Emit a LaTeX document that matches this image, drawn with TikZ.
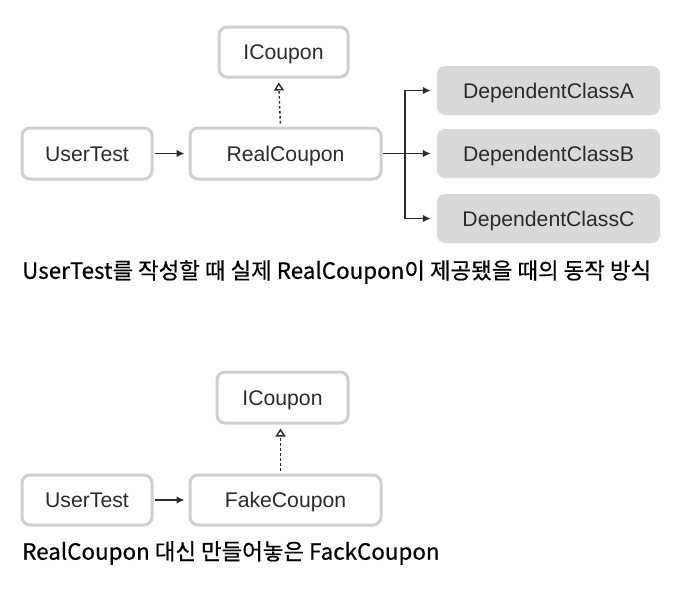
\documentclass[tikz,border=0pt]{standalone}
\usepackage{fontspec}
\setmainfont{Liberation Sans}
\newfontfamily\cjk[FakeBold=0.5]{Noto Sans CJK KR}
\usetikzlibrary{arrows.meta}
\definecolor{boxline}{HTML}{CFCFCF}
\definecolor{boxfill}{HTML}{D9D9D9}
\definecolor{ink}{HTML}{2B2B2B}
\begin{document}
\begin{tikzpicture}[x=1pt,y=-1pt,
  box/.style={draw=boxline, line width=3pt, rounded corners=8pt, fill=white,
    text=ink, font=\fontsize{21.2}{24}\selectfont, inner sep=0pt,
    text height=15.2pt, text depth=0pt},
  depbox/.style={fill=boxfill, rounded corners=8pt, text=ink,
    font=\fontsize{21.2}{24}\selectfont, inner sep=0pt,
    text height=15.2pt, text depth=0pt,
    minimum width=223pt, minimum height=49pt},
  arr/.style={draw=ink, line width=1.4pt, -{Latex[length=8pt,width=7.5pt]}},
  impl/.style={draw=ink, line width=1.4pt, dash pattern=on 2.5pt off 2.5pt,
    -{Triangle[open, length=8pt, width=10pt, line width=1.4pt]}},
  caption/.style={anchor=west, inner sep=0pt, text=black,
    font=\cjk\fontsize{22.4}{26}\selectfont}
]
\useasboundingbox (0,0) rectangle (682,592);

% ----- top diagram -----
\node[box, minimum width=129pt, minimum height=50pt] (ic1) at (283.5,52) {ICoupon};
\node[box, minimum width=130pt, minimum height=51pt] (ut1) at (87,153.5) {UserTest};
\node[box, minimum width=191pt, minimum height=51pt] (rc) at (285.5,153.5) {RealCoupon};
\node[depbox] (da) at (548.5,90.5) {DependentClassA};
\node[depbox] (db) at (548.5,153.5) {DependentClassB};
\node[depbox] (dc) at (548.5,218.5) {DependentClassC};
\coordinate (br) at (405,153.5);

\draw[arr, shorten <=1pt, shorten >=4pt] (ut1.east) -- (rc.west);
\draw[impl, shorten <=3pt, shorten >=4pt] ([xshift=-5pt]rc.north) -- ([xshift=-5pt]ic1.south);
\draw[ink, line width=1.4pt] (rc.east) -- (br);
\draw[arr, shorten >=6pt] (br) -- (db.west);
\draw[arr, shorten >=6pt] (br) |- (da.west);
\draw[arr, shorten >=6pt] (br) |- (dc.west);

\node[caption] (cap1) at (22,272) {UserTest를 작성할 때 실제 RealCoupon이 제공됐을 때의 동작 방식};

% ----- bottom diagram -----
\node[box, minimum width=131pt, minimum height=51pt] (ic2) at (282.5,397.5) {ICoupon};
\node[box, minimum width=130pt, minimum height=50pt] (ut2) at (87,500) {UserTest};
\node[box, minimum width=191pt, minimum height=50pt] (fc) at (285.5,500) {FakeCoupon};

\draw[arr, shorten <=1pt, shorten >=4pt] (ut2.east) -- (fc.west);
\draw[impl, shorten <=3pt, shorten >=4pt] ([xshift=-5pt]fc.north) -- ([xshift=-5pt]fc.north |- ic2.south);

\node[caption] (cap2) at (22,553) {RealCoupon 대신 만들어놓은 FackCoupon};
\end{tikzpicture}
\end{document}
